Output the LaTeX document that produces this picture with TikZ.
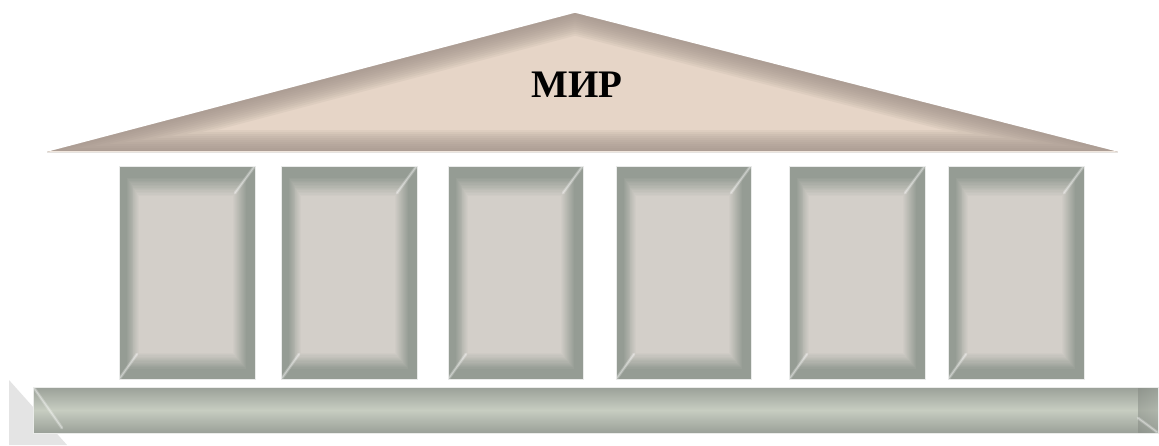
\documentclass[tikz,border=0pt]{standalone}
\usepackage{fontspec}
\newfontfamily\titlefont{Liberation Serif}
\definecolor{pedin}{HTML}{E6D5C7}
\definecolor{pedrim}{HTML}{9C8E86}
\definecolor{colrim}{HTML}{959C94}
\definecolor{colmid}{HTML}{B9C1B5}
\definecolor{colin}{HTML}{D3CFC9}
\definecolor{basedark}{HTML}{9AA098}
\definecolor{baselight}{HTML}{C7CDC1}
\definecolor{shadowgray}{HTML}{E4E4E4}
\tikzset{
  hilite/.style={white, opacity=0.25, line width=3pt, line cap=round},
  hilitecore/.style={white, opacity=0.35, line width=1pt, line cap=round},
  pillaredge/.style={draw=white!80!colrim, line width=0.8pt},
  titletext/.style={font=\titlefont\bfseries\fontsize{39}{39}\selectfont, text=black, inner sep=0pt}
}
\newcommand\pillarbox[2]{%
  \fill[colrim] (#1,166) rectangle (#2,379);
  \foreach \i in {0,...,14}{%
    \pgfmathsetmacro\t{0.35+0.65*\i/14}%
    \pgfmathtruncatemacro\m{100-\i*100/14}%
    \fill[colrim!\m!colin] (#1+20*\t,166+30*\t) rectangle (#2-22*\t,379-26*\t);
  }
  \draw[hilite] (#2-1,167) -- (#2-20,193);
  \draw[hilitecore] (#2-1,167) -- (#2-20,193);
  \draw[hilite] (#1+1,378) -- (#1+18,354);
  \draw[hilitecore] (#1+1,378) -- (#1+18,354);
  \draw[pillaredge] (#1,166) rectangle (#2,379);
}
\begin{document}
\begin{tikzpicture}[x=1pt,y=-1pt]
\useasboundingbox (0,0) rectangle (1159,445);
\fill[white] (0,0) rectangle (1159,445);
% pediment
\begin{scope}
  \clip (47,152) -- (575,13) -- (1118,152) -- cycle;
  \fill[pedin] (47,152) -- (575,13) -- (1118,152) -- cycle;
  \foreach \w in {44,40,...,4}{
    \draw[pedrim, opacity=0.11, line width=\w pt] (47,152) -- (575,13) -- (1118,152) -- cycle;
  }
  \draw[pedin!60!white, line width=1.5pt] (47,152) -- (1118,152);
\end{scope}
\node[titletext] (title) at (577,85) {МИР};
% pillars
\pillarbox{119}{255}
\pillarbox{281}{417}
\pillarbox{448}{583}
\pillarbox{616}{751}
\pillarbox{789}{925}
\pillarbox{948}{1084}
% shadow triangle
\fill[shadowgray] (9,380) -- (9,445) -- (67,445) -- cycle;
% base
\shade[top color=basedark, bottom color=basedark, middle color=baselight] (33,387) rectangle (1158,433);
\shade[left color=basedark!85!black, right color=basedark, opacity=0.5] (1138,387) rectangle (1158,433);
\draw[hilite] (34,388) -- (62,428);
\draw[hilitecore] (34,388) -- (62,428);
\draw[hilite] (1138,418) -- (1157,432);
\draw[hilitecore] (1138,418) -- (1157,432);
\draw[white!80!basedark, line width=0.8pt] (33,387) rectangle (1158,433);
\end{tikzpicture}
\end{document}
